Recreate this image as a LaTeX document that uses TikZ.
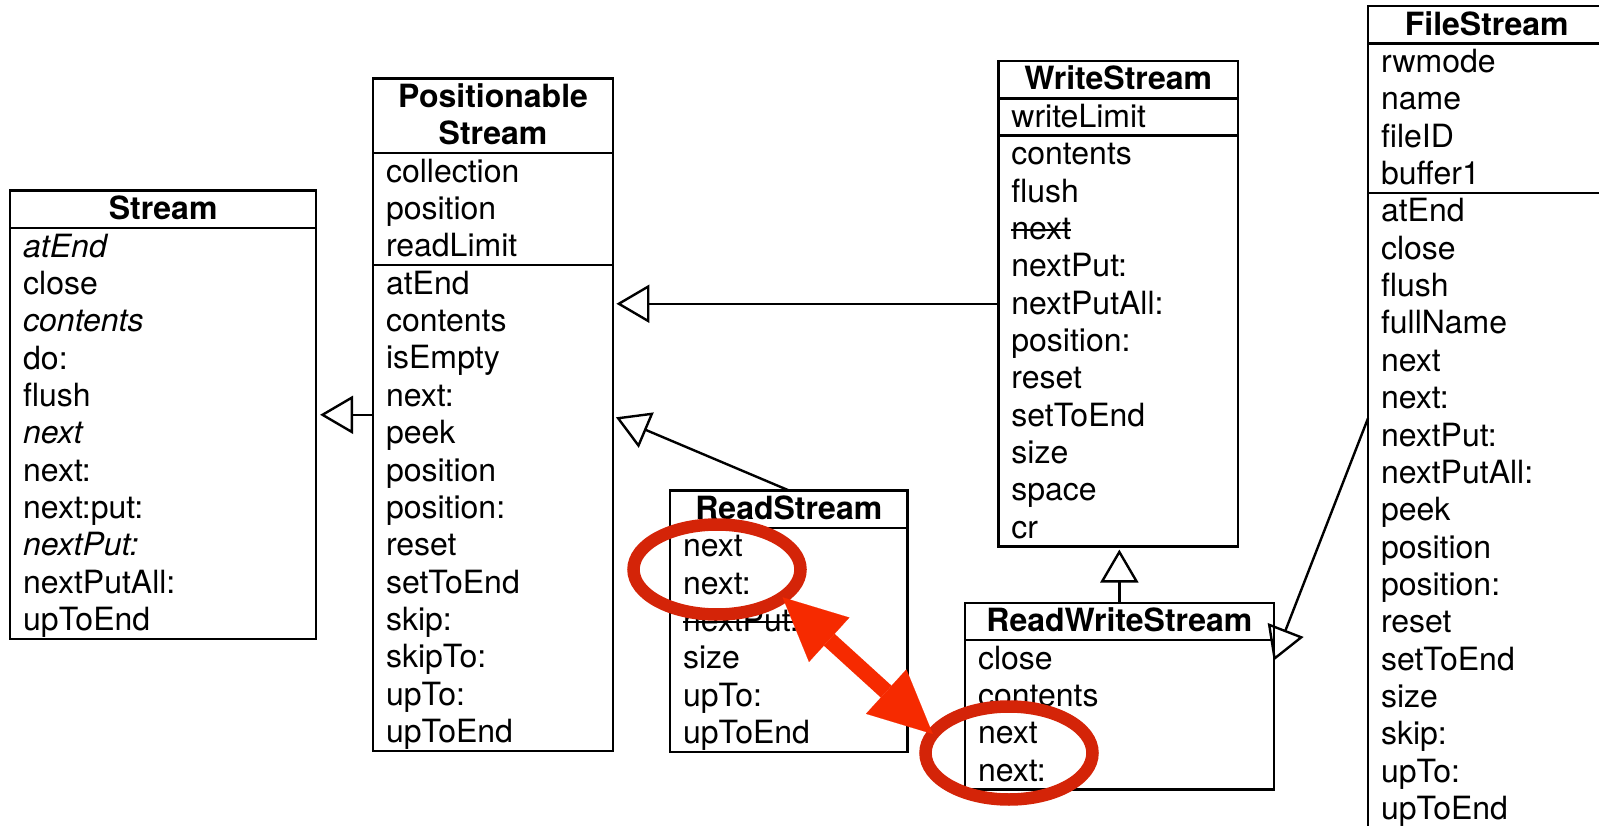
\documentclass[tikz,border=0pt]{standalone}
\usepackage{fontspec}
\setmainfont{TeX Gyre Heros}
\usetikzlibrary{arrows.meta,shapes.geometric}
\definecolor{ringred}{RGB}{212,36,8}
\definecolor{arrowred}{RGB}{246,42,0}
\newcommand\rowfont{\fontsize{32pt}{37.35pt}\selectfont}
\newcommand\rowh{37.35}
% struck-through member name
\newsavebox\strikebox
\newcommand\struck[1]{\sbox\strikebox{#1}\rlap{\usebox\strikebox}\rule[8.2pt]{\wd\strikebox}{2.2pt}}

\tikzset{
  classbox/.style={draw, line width=2.4pt, rectangle, inner sep=0pt, outer sep=0pt, anchor=north west},
  rule/.style={line width=2.4pt},
  item/.style={anchor=base west, inner sep=0pt, outer sep=0pt, font=\rowfont},
  head/.style={anchor=base, inner sep=0pt, outer sep=0pt, font=\rowfont\bfseries},
  gen/.style={line width=2.4pt, -{Triangle[open, length=33pt, width=38pt]}},
  ring/.style={draw=ringred, line width=12.5pt, ellipse, inner sep=0pt, outer sep=0pt},
  pointer/.style={draw=arrowred, line width=16pt,
    {Triangle[length=63pt, width=60pt, line width=0.1pt]}-{Triangle[length=63pt, width=60pt, line width=0.1pt]}},
}

% one member per row: text x, top of first row, list of members
\newcommand\members[3]{%
  \foreach \t [count=\i] in {#3}
    \node[item] at (#1, #2+\i*\rowh-8.35) {\t};}

\begin{document}
\begin{tikzpicture}[x=1pt, y=-1pt]
\useasboundingbox (0,0) rectangle (1599,826);
\clip (0,0) rectangle (1599,826);
\fill[white] (0,0) rectangle (1599,826);

% Stream
\node[classbox, minimum width=305.9pt, minimum height=448.2pt] (stream) at (10.2,190.7) {};
\node[head] at (stream.north |- 0,219.7) {Stream};
\draw[rule] (stream.west |- 0,228.05) -- (stream.east |- 0,228.05);
\members{23.2}{228.05}{\textit{atEnd},close,\textit{contents},do:,flush,\textit{next},next:,next:put:,\textit{nextPut:},nextPutAll:,upToEnd}

% PositionableStream
\node[classbox, minimum width=239.7pt, minimum height=672.3pt] (ps) at (373.2,78.5) {};
\node[head] at (ps.north |- 0,107.5) {Positionable};
\node[head] at (ps.north |- 0,144.85) {Stream};
\draw[rule] (ps.west |- 0,153.2) -- (ps.east |- 0,153.2);
\members{386}{153.2}{collection,position,readLimit}
\draw[rule] (ps.west |- 0,265.25) -- (ps.east |- 0,265.25);
\members{386}{265.25}{atEnd,contents,isEmpty,next:,peek,position,position:,reset,setToEnd,skip:,skipTo:,upTo:,upToEnd}

% WriteStream
\node[classbox, minimum width=239.6pt, minimum height=485.55pt] (ws) at (998.4,61) {};
\node[head] at (ws.north |- 0,90) {WriteStream};
\draw[rule] (ws.west |- 0,98.35) -- (ws.east |- 0,98.35);
\members{1011.4}{98.35}{writeLimit}
\draw[rule] (ws.west |- 0,135.7) -- (ws.east |- 0,135.7);
\members{1011.4}{135.7}{contents,flush,\struck{next},nextPut:,nextPutAll:,position:,reset,setToEnd,size,space,cr}

% ReadStream
\node[classbox, minimum width=237.6pt, minimum height=261.45pt] (rs) at (670,490.4) {};
\node[head] at (rs.north |- 0,519.4) {ReadStream};
\draw[rule] (rs.west |- 0,527.75) -- (rs.east |- 0,527.75);
\members{683}{527.75}{next,next:,\struck{nextPut:},size,upTo:,upToEnd}

% ReadWriteStream
\node[classbox, minimum width=308.7pt, minimum height=186.75pt] (rws) at (965,602.7) {};
\node[head] at (rws.north |- 0,631.7) {ReadWriteStream};
\draw[rule] (rws.west |- 0,640.05) -- (rws.east |- 0,640.05);
\members{978}{640.05}{close,contents,next,next:}

% FileStream
\node[classbox, minimum width=237.4pt, minimum height=821.7pt] (fs) at (1368,6.2) {};
\node[head] at (fs.north |- 0,35.2) {FileStream};
\draw[rule] (fs.west |- 0,43.55) -- (fs.east |- 0,43.55);
\members{1381}{43.55}{rwmode,name,fileID,buffer1}
\draw[rule] (fs.west |- 0,192.95) -- (fs.east |- 0,192.95);
\members{1381}{192.95}{atEnd,close,flush,fullName,next,next:,nextPut:,nextPutAll:,peek,position,position:,reset,setToEnd,size,skip:,upTo:,upToEnd}

% generalizations
\draw[gen] (ps.west |- stream.east) -- ([xshift=4pt]stream.east);
\draw[gen] (ws.west) -- ([xshift=3.5pt]ps.east |- ws.west);
\draw[gen] (rs.north) -- ([xshift=3pt]ps.east |- 0,417.3);
\draw[gen] (rws.north) -- ([yshift=-3pt]rws.north |- ws.south);
\draw[gen] (fs.west |- 0,418.3) -- (rws.east |- 0,660.7);

% highlighted members
\node[ring, minimum width=167pt, minimum height=90pt] (e1) at (717,569.5) {};
\node[ring, minimum width=167pt, minimum height=93pt] (e2) at (1009,753) {};
\draw[pointer] (e1.-23.5) -- (e2.166);
\end{tikzpicture}
\end{document}
